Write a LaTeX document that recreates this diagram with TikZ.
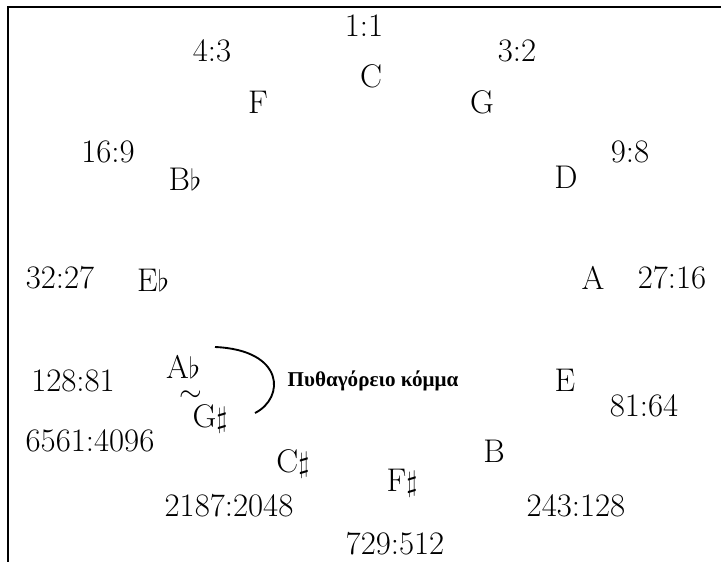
\documentclass[tikz,border=0pt]{standalone}
\usepackage{fontspec}
\newfontfamily\greekfont{Liberation Serif}
\begin{document}
\begin{tikzpicture}[x=0.03cm,y=-0.03cm,
  lbl/.style={inner sep=0pt,font=\fontsize{28}{32}\selectfont},
  note/.style={lbl},
  frame/.style={line width=1.3pt},
  arcline/.style={line width=1.6pt}]
\useasboundingbox (0,0) rectangle (721,562);
\draw[frame] (7,7) -- (721,7);
\draw[frame] (8,7) -- (8,562);
% ratios
\node[lbl] (r11) at (364,26) {1:1};
\node[lbl] (r43) at (212,51) {4:3};
\node[lbl] (r32) at (517,51) {3:2};
\node[lbl] (r169) at (108,152) {16:9};
\node[lbl] (r98) at (630,152) {9:8};
\node[lbl] (r3227) at (60,278) {32:27};
\node[lbl] (r2716) at (672,278) {27:16};
\node[lbl] (r12881) at (73,381) {128:81};
\node[lbl] (r8164) at (644,406) {81:64};
\node[lbl] (r6561) at (90,441) {6561:4096};
\node[lbl] (r2187) at (229,506) {2187:2048};
\node[lbl] (r243) at (576,506) {243:128};
\node[lbl] (r729) at (395,544) {729:512};
% notes
\node[note] (C) at (371,76) {C};
\node[note] (F) at (258,102) {F};
\node[note] (G) at (482,102) {G};
\node[note] (Bb) at (185,179) {B$\flat$};
\node[note] (D) at (566,177) {D};
\node[note] (Eb) at (153,280) {E$\flat$};
\node[note] (A) at (593,278) {A};
\node[note] (Ab) at (183,367) {A$\flat$};
\node[note] (sim) at (191,396) {$\sim$};
\node[note] (Gs) at (210,419) {G$\sharp$};
\node[note] (E) at (565,380) {E};
\node[note] (B) at (494,451) {B};
\node[note] (Cs) at (293,464) {C$\sharp$};
\node[note] (Fs) at (402,483) {F$\sharp$};
% comma
\node[inner sep=0pt,font={\greekfont\fontsize{18}{22}\selectfont\bfseries}] (comma) at (373,381) {Πυθαγόρειο κόμμα};
\coordinate (arcA) at (215,347);
\coordinate (arcB) at (255,413);
\draw[arcline] (arcA) .. controls (285,350) and (285,398) .. (arcB);
\end{tikzpicture}
\end{document}
